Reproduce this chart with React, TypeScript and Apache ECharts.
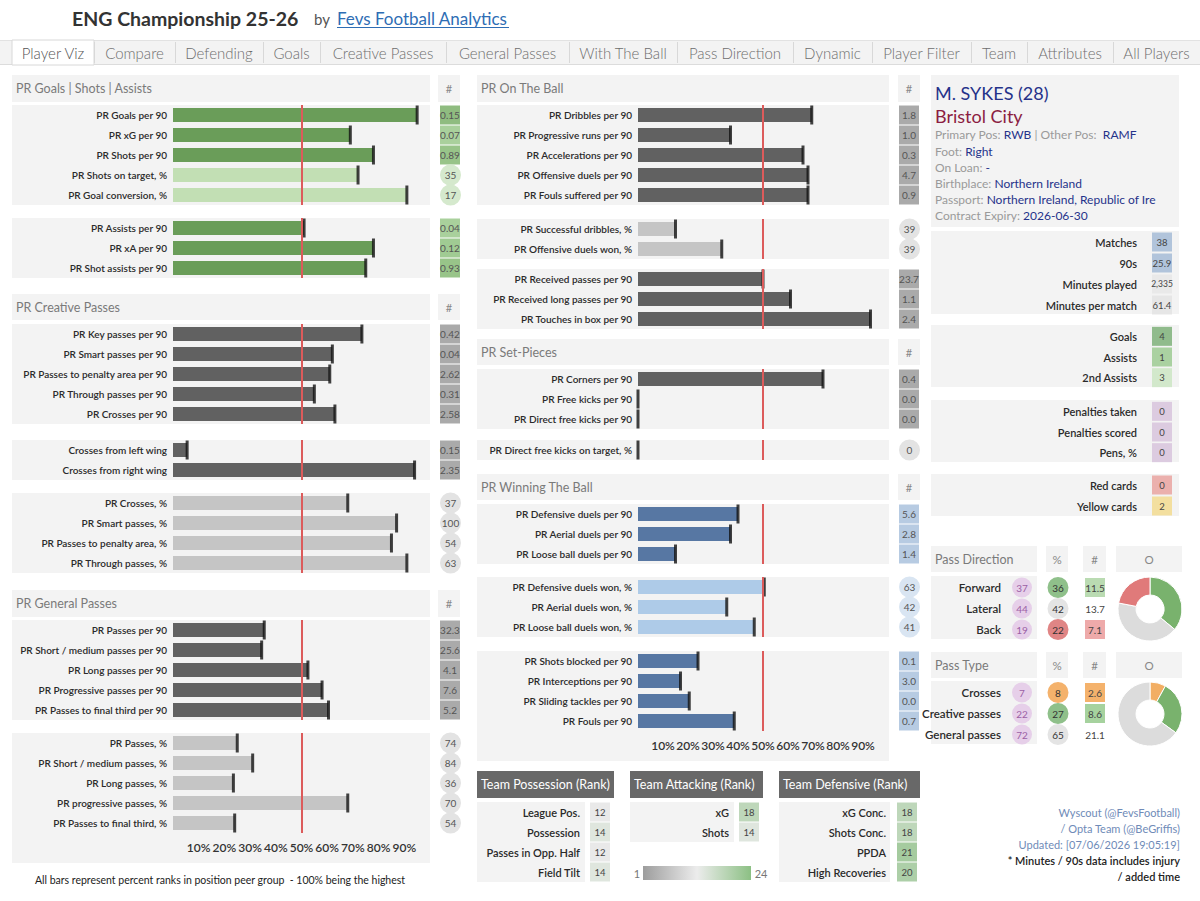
import React, { useEffect, useRef } from "react";
import * as echarts from "echarts";

const FONT = "Lato, 'Open Sans', sans-serif";

// ================= DATA =================
// Left column
const goalsLabels = ["PR Goals per 90", "PR xG per 90", "PR Shots per 90", "PR Shots on target, %", "PR Goal conversion, %"];
const goalsPR = [95, 69, 78, 72, 91];
const goalsVals = ["0.15", "0.07", "0.89", "35", "17"];

const assistLabels = ["PR Assists per 90", "PR xA per 90", "PR Shot assists per 90"];
const assistPR = [51, 78, 75];
const assistVals = ["0.04", "0.12", "0.93"];

const creativeLabels = ["PR Key passes per 90", "PR Smart passes per 90", "PR Passes to penalty area per 90", "PR Through passes per 90", "PR Crosses per 90"];
const creativePR = [73.5, 62, 61, 55, 63];
const creativeVals = ["0.42", "0.04", "2.62", "0.31", "2.58"];

const wingLabels = ["Crosses from left wing", "Crosses from right wing"];
const wingPR = [5.5, 94];
const wingVals = ["0.15", "2.35"];

const creativePctLabels = ["PR Crosses, %", "PR Smart passes, %", "PR Passes to penalty area, %", "PR Through passes, %"];
const creativePctPR = [68, 87, 85, 91];
const creativePctVals = ["37", "100", "54", "63"];

const generalLabels = ["PR Passes per 90", "PR Short / medium passes per 90", "PR Long passes per 90", "PR Progressive passes per 90", "PR Passes to final third per 90"];
const generalPR = [35.5, 34.5, 52.5, 58, 60.5];
const generalVals = ["32.3", "25.6", "4.1", "7.6", "5.2"];

const generalPctLabels = ["PR Passes, %", "PR Short / medium passes, %", "PR Long passes, %", "PR progressive passes, %", "PR Passes to final third, %"];
const generalPctPR = [25, 31, 23.5, 68, 24];
const generalPctVals = ["74", "84", "36", "70", "54"];

// Middle column
const onBallLabels = ["PR Dribbles per 90", "PR Progressive runs per 90", "PR Accelerations per 90", "PR Offensive duels per 90", "PR Fouls suffered per 90"];
const onBallPR = [69.5, 37, 66, 68, 68];
const onBallVals = ["1.8", "1.0", "0.3", "4.7", "0.9"];

const dribblePctLabels = ["PR Successful dribbles, %", "PR Offensive duels won, %"];
const dribblePctPR = [15, 33.5];
const dribblePctVals = ["39", "39"];

const receiveLabels = ["PR Received passes per 90", "PR Received long passes per 90", "PR Touches in box per 90"];
const receivePR = [50, 61, 93];
const receiveVals = ["23.7", "1.1", "2.4"];

const setPieceLabels = ["PR Corners per 90", "PR Free kicks per 90", "PR Direct free kicks per 90"];
const setPiecePR = [74, 0, 0];
const setPieceVals = ["0.4", "0.0", "0.0"];

const fkTargetLabels = ["PR Direct free kicks on target, %"];
const fkTargetPR = [0];
const fkTargetVals = ["0"];

const duelLabels = ["PR Defensive duels per 90", "PR Aerial duels per 90", "PR Loose ball duels per 90"];
const duelPR = [40, 37, 15];
const duelVals = ["5.6", "2.8", "1.4"];

const duelPctLabels = ["PR Defensive duels won, %", "PR Aerial duels won, %", "PR Loose ball duels won, %"];
const duelPctPR = [50.5, 35.5, 46.5];
const duelPctVals = ["63", "42", "41"];

const defLabels = ["PR Shots blocked per 90", "PR Interceptions per 90", "PR Sliding tackles per 90", "PR Fouls per 90"];
const defPR = [24, 17, 20.5, 38.5];
const defVals = ["0.1", "3.0", "0.0", "0.7"];

// Right column
const playerName = "M. SYKES (28)";
const playerTeam = "Bristol City";
const primaryPos = "RWB";
const otherPos = "RAMF";
const infoKeys = ["Foot:", "On Loan:", "Birthplace:", "Passport:", "Contract Expiry:"];
const infoValues = ["Right", "-", "Northern Ireland", "Northern Ireland, Republic of Ire", "2026-06-30"];

const usageLabels = ["Matches", "90s", "Minutes played", "Minutes per match"];
const usageVals = ["38", "25.9", "2,335", "61.4"];
const outputLabels = ["Goals", "Assists", "2nd Assists"];
const outputVals = ["4", "1", "3"];
const penLabels = ["Penalties taken", "Penalties scored", "Pens, %"];
const penVals = ["0", "0", "0"];
const cardLabels = ["Red cards", "Yellow cards"];
const cardVals = ["0", "2"];

const passDirLabels = ["Forward", "Lateral", "Back"];
const passDirRank = [37, 44, 19];
const passDirPct = [36, 42, 22];
const passDirNum = ["11.5", "13.7", "7.1"];

const passTypeLabels = ["Crosses", "Creative passes", "General passes"];
const passTypeRank = [7, 22, 72];
const passTypePct = [8, 27, 65];
const passTypeNum = ["2.6", "8.6", "21.1"];

// Team tables
const possLabels = ["League Pos.", "Possession", "Passes in Opp. Half", "Field Tilt"];
const possRanks = [12, 14, 12, 14];
const attLabels = ["xG", "Shots"];
const attRanks = [18, 14];
const defTeamLabels = ["xG Conc.", "Shots Conc.", "PPDA", "High Recoveries"];
const defTeamRanks = [18, 18, 21, 20];
const rankMin = 1;
const rankMax = 24;

const tabs = ["Player Viz", "Compare", "Defending", "Goals", "Creative Passes", "General Passes", "With The Ball", "Pass Direction", "Dynamic", "Player Filter", "Team", "Attributes", "All Players"];

// ================= STYLE / LAYOUT =================
const PANEL = "#f3f3f3";
const DG = "#6a9d59";
const LG = "#c2dfb4";
const DK = "#616161";
const LK = "#c5c5c5";
const BL = "#5777a3";
const LB = "#aecbe8";
const RED = "#dc5b5b";
const NAVY = "#25328a";
const LABEL_W = 600;

const tabEdges = [12, 94, 175, 263, 320, 446, 569, 677, 793, 872, 971, 1027, 1113, 1200];

const sq = (bg: string, fg = "#555") => ({ width: 20, height: 19, lineHeight: 19, align: "center", backgroundColor: bg, color: fg, fontSize: 10, fontFamily: FONT });
const ci = (bg: string, fg = "#555") => ({ width: 21, height: 21, lineHeight: 21, align: "center", borderRadius: 11, backgroundColor: bg, color: fg, fontSize: 10, fontFamily: FONT });

function hex(c: string) {
  return [parseInt(c.slice(1, 3), 16), parseInt(c.slice(3, 5), 16), parseInt(c.slice(5, 7), 16)];
}
function mix(a: string, b: string, t: number) {
  const A = hex(a), B = hex(b);
  const r = A.map((v, i) => Math.round(v + (B[i] - v) * t));
  return "#" + r.map((v) => v.toString(16).padStart(2, "0")).join("");
}
function rankColor(r: number) {
  const t = (r - rankMin) / (rankMax - rankMin);
  return t < 0.5 ? mix("#9d9d9d", "#ececec", t / 0.5) : mix("#ececec", "#8cc084", (t - 0.5) / 0.5);
}

function buildOption() {
  const grid: any[] = [];
  const xAxis: any[] = [];
  const yAxis: any[] = [];
  const series: any[] = [];
  const graphic: any[] = [];
  const ROW = 20;

  const hidden = { axisLine: { show: false }, axisTick: { show: false }, splitLine: { show: false } };

  function addGroup(g: any) {
    const n = g.labels.length;
    const idx = grid.length;
    grid.push({ left: g.x, top: g.top, width: g.w, height: n * ROW });
    xAxis.push({
      gridIndex: idx, type: "value", min: 0, max: 100, interval: 10, ...hidden,
      axisLabel: {
        show: !!g.showAxis, fontSize: 12, color: "#333", fontFamily: FONT, fontWeight: LABEL_W, margin: 8,
        formatter: (v: number) => (v === 0 || v === 100 ? "" : v + "%"),
      },
    });
    const yL = yAxis.length;
    yAxis.push({
      gridIndex: idx, type: "category", data: g.labels, inverse: true, ...hidden,
      axisLabel: { interval: 0, fontSize: 10, color: "#2a2a2a", fontFamily: FONT, fontWeight: LABEL_W, margin: 6 },
    });
    const rich: any = {};
    g.boxes.forEach((s: any, k: number) => (rich["s" + k] = s));
    yAxis.push({
      gridIndex: idx, type: "category", data: g.labels, inverse: true, position: "right", ...hidden,
      axisLabel: { interval: 0, margin: g.valMargin, formatter: (_v: string, k: number) => `{s${k}|${g.vals[k]}}`, rich },
    });
    series.push({
      type: "bar", xAxisIndex: idx, yAxisIndex: yL, barWidth: 14, silent: true, z: 2,
      data: g.pr.map((v: number, k: number) => ({ value: v, itemStyle: { color: g.barColors[k] } })),
      markLine: {
        silent: true, symbol: "none", label: { show: false },
        lineStyle: { color: RED, width: 2, type: "solid" },
        data: [{ xAxis: 50 }],
      },
    });
    series.push({
      type: "scatter", xAxisIndex: idx, yAxisIndex: yL, symbol: "rect", symbolSize: [3, 19], silent: true, z: 4,
      itemStyle: { color: "#111" },
      data: g.pr.map((v: number, k: number) => [v, k]),
    });
    graphic.push({
      type: "rect", z: -5,
      shape: { x: g.bgL, y: g.top, width: g.bgR - g.bgL, height: n * ROW + (g.bgExtra || 0) },
      style: { fill: PANEL },
    });
  }

  function addTable(t: any) {
    const idx = grid.length;
    grid.push({ left: t.left, top: t.top, width: 1, height: t.height });
    xAxis.push({ gridIndex: idx, type: "value", show: false, min: 0, max: 1 });
    yAxis.push({
      gridIndex: idx, type: "category", data: t.labels, inverse: true, ...hidden,
      axisLabel: { interval: 0, margin: 6, fontSize: t.fontSize || 11, color: "#2a2a2a", fontFamily: FONT, fontWeight: LABEL_W },
    });
    t.cols.forEach((col: any) => {
      const rich: any = {};
      col.styles.forEach((s: any, k: number) => (rich["c" + k] = s));
      yAxis.push({
        gridIndex: idx, type: "category", data: t.labels, inverse: true, position: "right", ...hidden,
        axisLabel: { interval: 0, margin: col.margin, align: "center", formatter: (_v: string, k: number) => `{c${k}|${col.texts[k]}}`, rich },
      });
    });
  }

  function header(x: number, y: number, w: number, h: number, text: string, hashX: number, hashW: number) {
    graphic.push({ type: "rect", z: -5, shape: { x, y, width: w, height: h }, style: { fill: PANEL } });
    graphic.push({ type: "text", z: 10, x: x + 4, y: y + h / 2, style: { text, fill: "#7a7a7a", fontSize: 12.5, fontFamily: FONT, textVerticalAlign: "middle" } });
    if (hashW > 0) {
      graphic.push({ type: "rect", z: -5, shape: { x: hashX, y, width: hashW, height: h }, style: { fill: PANEL } });
      graphic.push({ type: "text", z: 10, x: hashX + hashW / 2, y: y + h / 2, style: { text: "#", fill: "#888", fontSize: 11, fontFamily: FONT, textAlign: "center", textVerticalAlign: "middle" } });
    }
  }

  const LEFT = { x: 173, w: 257, bgL: 12, bgR: 430, valMargin: 10 };
  const MID = { x: 638, w: 250, bgL: 477, bgR: 889, valMargin: 11 };

  // ---------- Left column ----------
  header(12, 75, 418, 27, "PR Goals | Shots | Assists", 438, 22);
  addGroup({ ...LEFT, top: 105, labels: goalsLabels, pr: goalsPR, vals: goalsVals, barColors: [DG, DG, DG, LG, LG],
    boxes: [sq("#8fbc80"), sq("#a9d09c"), sq("#98c489"), ci("#d5e9cd"), ci("#d5e9cd")] });
  addGroup({ ...LEFT, top: 218, labels: assistLabels, pr: assistPR, vals: assistVals, barColors: [DG, DG, DG],
    boxes: [sq("#a9d09c"), sq("#a0cb93"), sq("#98c489")] });
  header(12, 294, 418, 26, "PR Creative Passes", 438, 22);
  addGroup({ ...LEFT, top: 324, labels: creativeLabels, pr: creativePR, vals: creativeVals, barColors: creativePR.map(() => DK),
    boxes: creativeVals.map(() => sq("#aaaaaa")) });
  addGroup({ ...LEFT, top: 440, labels: wingLabels, pr: wingPR, vals: wingVals, barColors: wingPR.map(() => DK),
    boxes: wingVals.map(() => sq("#aaaaaa")) });
  addGroup({ ...LEFT, top: 493, labels: creativePctLabels, pr: creativePctPR, vals: creativePctVals, barColors: creativePctPR.map(() => LK),
    boxes: creativePctVals.map(() => ci("#e3e3e3")) });
  header(12, 590, 418, 27, "PR General Passes", 438, 22);
  addGroup({ ...LEFT, top: 620, labels: generalLabels, pr: generalPR, vals: generalVals, barColors: generalPR.map(() => DK),
    boxes: generalVals.map(() => sq("#aaaaaa")) });
  addGroup({ ...LEFT, top: 733, labels: generalPctLabels, pr: generalPctPR, vals: generalPctVals, barColors: generalPctPR.map(() => LK),
    boxes: generalPctVals.map(() => ci("#e3e3e3")), showAxis: true, bgExtra: 30 });

  // ---------- Middle column ----------
  header(477, 75, 412, 27, "PR On The Ball", 898, 22);
  addGroup({ ...MID, top: 105, labels: onBallLabels, pr: onBallPR, vals: onBallVals, barColors: onBallPR.map(() => DK),
    boxes: onBallVals.map(() => sq("#aaaaaa")) });
  addGroup({ ...MID, top: 219, labels: dribblePctLabels, pr: dribblePctPR, vals: dribblePctVals, barColors: dribblePctPR.map(() => LK),
    boxes: dribblePctVals.map(() => ci("#e3e3e3")) });
  addGroup({ ...MID, top: 269, labels: receiveLabels, pr: receivePR, vals: receiveVals, barColors: receivePR.map(() => DK),
    boxes: receiveVals.map(() => sq("#aaaaaa")) });
  header(477, 339, 412, 26, "PR Set-Pieces", 898, 22);
  addGroup({ ...MID, top: 369, labels: setPieceLabels, pr: setPiecePR, vals: setPieceVals, barColors: setPiecePR.map(() => DK),
    boxes: setPieceVals.map(() => sq("#aaaaaa")) });
  addGroup({ ...MID, top: 440, labels: fkTargetLabels, pr: fkTargetPR, vals: fkTargetVals, barColors: [LK],
    boxes: [ci("#e3e3e3")] });
  header(477, 474, 412, 26, "PR Winning The Ball", 898, 22);
  addGroup({ ...MID, top: 504, labels: duelLabels, pr: duelPR, vals: duelVals, barColors: duelPR.map(() => BL),
    boxes: duelVals.map(() => sq("#b7cbe2")) });
  addGroup({ ...MID, top: 577, labels: duelPctLabels, pr: duelPctPR, vals: duelPctVals, barColors: duelPctPR.map(() => LB),
    boxes: duelPctVals.map(() => ci("#d9e5f2")) });
  addGroup({ ...MID, top: 651, labels: defLabels, pr: defPR, vals: defVals, barColors: defPR.map(() => BL),
    boxes: defVals.map(() => sq("#b7cbe2")), showAxis: true, bgExtra: 30 });

  // ---------- Team tables ----------
  const teamHeader = (x: number, w: number, text: string) => {
    graphic.push({ type: "rect", z: -5, shape: { x, y: 771, width: w, height: 27 }, style: { fill: "#686868" } });
    graphic.push({ type: "text", z: 10, x: x + 4, y: 784.5, style: { text, fill: "#fff", fontSize: 12.5, fontFamily: FONT, textVerticalAlign: "middle" } });
  };
  teamHeader(477, 137, "Team Possession (Rank)");
  teamHeader(630, 133, "Team Attacking (Rank)");
  teamHeader(779, 141, "Team Defensive (Rank)");
  graphic.push({ type: "rect", z: -5, shape: { x: 477, y: 802, width: 108, height: 80 }, style: { fill: PANEL } });
  graphic.push({ type: "rect", z: -5, shape: { x: 630, y: 802, width: 104, height: 40 }, style: { fill: PANEL } });
  graphic.push({ type: "rect", z: -5, shape: { x: 779, y: 802, width: 111, height: 80 }, style: { fill: PANEL } });
  const rankBox = (r: number) => ({ ...sq(rankColor(r), "#444"), fontSize: 9.5 });
  addTable({ left: 586, top: 802, height: 80, labels: possLabels, cols: [{ margin: 13, texts: possRanks.map(String), styles: possRanks.map(rankBox) }] });
  addTable({ left: 735, top: 802, height: 40, labels: attLabels, cols: [{ margin: 13, texts: attRanks.map(String), styles: attRanks.map(rankBox) }] });
  addTable({ left: 892, top: 802, height: 80, labels: defTeamLabels, cols: [{ margin: 14, texts: defTeamRanks.map(String), styles: defTeamRanks.map(rankBox) }] });

  // rank legend
  graphic.push({ type: "text", z: 10, x: 637, y: 873, style: { text: String(rankMin), fill: "#777", fontSize: 11, fontFamily: FONT, textAlign: "center", textVerticalAlign: "middle" } });
  graphic.push({ type: "rect", z: 1, shape: { x: 643, y: 866, width: 108, height: 14 },
    style: { fill: new echarts.graphic.LinearGradient(0, 0, 1, 0, [
      { offset: 0, color: "#9d9d9d" }, { offset: 0.5, color: "#ececec" }, { offset: 1, color: "#8cc084" }]) } });
  graphic.push({ type: "text", z: 10, x: 761, y: 873, style: { text: String(rankMax), fill: "#777", fontSize: 11, fontFamily: FONT, textAlign: "center", textVerticalAlign: "middle" } });

  // ---------- Right column ----------
  graphic.push({ type: "rect", z: -5, shape: { x: 931, y: 75, width: 248, height: 152 }, style: { fill: PANEL } });
  graphic.push({ type: "text", z: 10, x: 935, y: 93, style: { text: playerName, fill: NAVY, fontSize: 18, fontFamily: FONT, textVerticalAlign: "middle" } });
  graphic.push({ type: "text", z: 10, x: 935, y: 116, style: { text: playerTeam, fill: "#8b1d42", fontSize: 18, fontFamily: FONT, textVerticalAlign: "middle" } });
  const infoRich = {
    k: { fill: "#9a9a9a", color: "#9a9a9a", fontSize: 12, fontFamily: FONT },
    v: { fill: NAVY, color: NAVY, fontSize: 12, fontFamily: FONT },
  };
  graphic.push({ type: "text", z: 10, x: 935, y: 134, style: { text: `{k|Primary Pos: }{v|${primaryPos}}{k| | Other Pos:  }{v|${otherPos}}`, rich: infoRich, fontSize: 12, fontFamily: FONT, textVerticalAlign: "middle" } });
  infoKeys.forEach((k, i) => {
    graphic.push({ type: "text", z: 10, x: 935, y: 151 + i * 16, style: { text: `{k|${k} }{v|${infoValues[i]}}`, rich: infoRich, fontSize: 12, fontFamily: FONT, textVerticalAlign: "middle" } });
  });

  const statPanel = (y: number, h: number) => graphic.push({ type: "rect", z: -5, shape: { x: 931, y, width: 248, height: h }, style: { fill: PANEL } });
  statPanel(231, 83);
  statPanel(325, 62);
  statPanel(400, 62);
  statPanel(474, 42);
  const st = (bg: string) => ({ ...sq(bg, "#444"), fontSize: 9.5 });
  addTable({ left: 1143, top: 231.5, height: 84, labels: usageLabels,
    cols: [{ margin: 18, texts: usageVals, styles: [st("#b1c4db"), st("#b1c4db"), { ...st("#e9e9e9"), fontSize: 8.5 }, st("#e6e6e6")] }] });
  addTable({ left: 1143, top: 326, height: 62, labels: outputLabels,
    cols: [{ margin: 18, texts: outputVals, styles: [st("#90bb8c"), st("#aad1a1"), st("#d2e8cb")] }] });
  addTable({ left: 1143, top: 401, height: 62, labels: penLabels,
    cols: [{ margin: 18, texts: penVals, styles: penVals.map(() => st("#dccbe0")) }] });
  addTable({ left: 1143, top: 474.5, height: 42, labels: cardLabels,
    cols: [{ margin: 18, texts: cardVals, styles: [st("#ebb0ad"), st("#f3df9f")] }] });

  // Pass direction / type
  const smallHeader = (y: number, text: string) => {
    graphic.push({ type: "rect", z: -5, shape: { x: 931, y, width: 106, height: 26 }, style: { fill: PANEL } });
    graphic.push({ type: "text", z: 10, x: 935, y: y + 13, style: { text, fill: "#7a7a7a", fontSize: 12.5, fontFamily: FONT, textVerticalAlign: "middle" } });
    [[1046, 22, "%"], [1083, 23, "#"], [1116, 66, "O"]].forEach(([x, w, t]: any) => {
      graphic.push({ type: "rect", z: -5, shape: { x, y, width: w, height: 26 }, style: { fill: PANEL } });
      graphic.push({ type: "text", z: 10, x: x + w / 2, y: y + 13, style: { text: t, fill: "#888", fontSize: 11.5, fontFamily: FONT, textAlign: "center", textVerticalAlign: "middle" } });
    });
  };
  smallHeader(546, "Pass Direction");
  smallHeader(652, "Pass Type");
  graphic.push({ type: "rect", z: -5, shape: { x: 931, y: 576, width: 106, height: 63 }, style: { fill: PANEL } });
  graphic.push({ type: "rect", z: -5, shape: { x: 931, y: 681, width: 106, height: 63 }, style: { fill: PANEL } });

  const purple = () => ({ ...ci("#e6cfe9", "#9b5fa5"), width: 20, height: 20, lineHeight: 20, borderRadius: 10 });
  const dirColors = ["#79b26d", "#dcdcdc", "#e07a7a"];
  const typeColors = ["#f2ae63", "#79b26d", "#dcdcdc"];
  addTable({ left: 1007, top: 577, height: 63, labels: passDirLabels, fontSize: 11.5,
    cols: [
      { margin: 14, texts: passDirRank.map(String), styles: passDirRank.map(purple) },
      { margin: 50, texts: passDirPct.map(String), styles: [ci("#8fc08a", "#333"), ci("#e4e4e4", "#333"), ci("#e08585", "#333")] },
      { margin: 87, texts: passDirNum, styles: [sq("#badbb2", "#444"), sq("#ffffff", "#444"), sq("#eeaaaa", "#444")] },
    ] });
  addTable({ left: 1007, top: 682, height: 63, labels: passTypeLabels, fontSize: 11.5,
    cols: [
      { margin: 14, texts: passTypeRank.map(String), styles: passTypeRank.map(purple) },
      { margin: 50, texts: passTypePct.map(String), styles: [ci("#f4b26c", "#333"), ci("#8fc08a", "#333"), ci("#e4e4e4", "#333")] },
      { margin: 87, texts: passTypeNum, styles: [sq("#f4b26c", "#444"), sq("#a6d29e", "#444"), sq("#ffffff", "#444")] },
    ] });

  series.push({
    type: "pie", center: [1150, 609], radius: [14, 32], startAngle: 90, silent: true,
    label: { show: false }, labelLine: { show: false },
    itemStyle: { borderColor: "#fff", borderWidth: 1 },
    data: passDirLabels.map((l, k) => ({ name: l, value: passDirPct[k], itemStyle: { color: dirColors[k] } })),
  });
  series.push({
    type: "pie", center: [1150, 714], radius: [14, 32], startAngle: 90, silent: true,
    label: { show: false }, labelLine: { show: false },
    itemStyle: { borderColor: "#fff", borderWidth: 1 },
    data: passTypeLabels.map((l, k) => ({ name: l, value: passTypePct[k], itemStyle: { color: typeColors[k] } })),
  });

  // Credits
  const credits: [string, string, number][] = [
    ["Wyscout (@FevsFootball)", "#6f8bb8", 400],
    ["/ Opta Team (@BeGriffis)", "#6f8bb8", 400],
    ["Updated: [07/06/2026 19:05:19]", "#6f8bb8", 400],
    ["* Minutes / 90s data includes injury", "#222", LABEL_W],
    ["/ added time", "#222", LABEL_W],
  ];
  credits.forEach(([t, c, w], i) => {
    graphic.push({ type: "text", z: 10, x: 1180, y: 812 + i * 16, style: { text: t, fill: c, fontSize: 11, fontWeight: w, fontFamily: FONT, textAlign: "right", textVerticalAlign: "middle" } });
  });

  graphic.push({ type: "text", z: 10, x: 220, y: 880, style: { text: "All bars represent percent ranks in position peer group  - 100% being the highest", fill: "#222", fontSize: 10.5, fontFamily: FONT, textAlign: "center", textVerticalAlign: "middle" } });

  // ---------- Title & tabs ----------
  graphic.push({ type: "text", z: 10, x: 72, y: 18, style: { text: "ENG Championship 25-26", fill: "#333", fontSize: 19.5, fontWeight: "bold", fontFamily: FONT, textVerticalAlign: "middle" } });
  graphic.push({ type: "text", z: 10, x: 314, y: 19, style: { text: "by", fill: "#555", fontSize: 15, fontFamily: FONT, textVerticalAlign: "middle" } });
  graphic.push({ type: "text", z: 10, x: 337, y: 18, style: { text: "Fevs Football Analytics", fill: "#2e6db4", fontSize: 17, fontFamily: FONT, textVerticalAlign: "middle" } });
  graphic.push({ type: "line", z: 10, shape: { x1: 337, y1: 27.5, x2: 509, y2: 27.5 }, style: { stroke: "#2e6db4", lineWidth: 1 } });

  graphic.push({ type: "rect", z: -6, shape: { x: 0, y: 40, width: 1200, height: 24 }, style: { fill: "#f3f3f3" } });
  graphic.push({ type: "line", z: -4, shape: { x1: 0, y1: 40.5, x2: 1200, y2: 40.5 }, style: { stroke: "#e2e2e2", lineWidth: 1 } });
  graphic.push({ type: "line", z: -4, shape: { x1: 0, y1: 64.5, x2: 1200, y2: 64.5 }, style: { stroke: "#dcdcdc", lineWidth: 1 } });
  graphic.push({ type: "rect", z: -3, shape: { x: tabEdges[0], y: 40, width: tabEdges[1] - tabEdges[0], height: 25 }, style: { fill: "#ffffff", stroke: "#d8d8d8", lineWidth: 1 } });
  tabs.forEach((t, i) => {
    const x0 = tabEdges[i], x1 = tabEdges[i + 1];
    graphic.push({ type: "text", z: 10, x: (x0 + x1) / 2, y: 53, style: { text: t, fill: i === 0 ? "#555" : "#6e6e6e", fontSize: 15, fontWeight: 300, fontFamily: FONT, textAlign: "center", textVerticalAlign: "middle" } });
    if (i > 0) graphic.push({ type: "line", z: -2, shape: { x1: x0 + 0.5, y1: 42, x2: x0 + 0.5, y2: 63 }, style: { stroke: "#d8d8d8", lineWidth: 1 } });
  });

  return {
    animation: false,
    backgroundColor: "#ffffff",
    textStyle: { fontFamily: FONT },
    grid, xAxis, yAxis, series, graphic,
  };
}

export default function App() {
  const ref = useRef<HTMLDivElement>(null);
  useEffect(() => {
    if (!ref.current) return;
    const chart = echarts.init(ref.current, null, { renderer: "svg", width: 1200, height: 901 });
    chart.setOption(buildOption() as any);
    return () => chart.dispose();
  }, []);
  return <div ref={ref} style={{ position: "absolute", left: 0, top: 0, width: 1200, height: 901 }} />;
}
